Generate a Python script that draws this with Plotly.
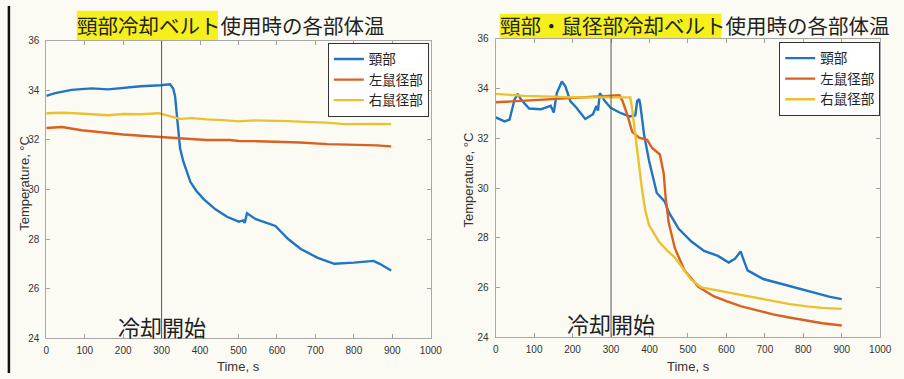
import plotly.graph_objects as go

W, H = 904, 379

SERIES_NAMES = ["頸部", "左鼠径部", "右鼠径部"]
X_TICKS = list(range(0, 1001, 100))
Y_TICKS = list(range(24, 37, 2))
COOLING_START = 300
COOLING_LABEL = "冷却開始"

TITLE_L_HL = "頸部冷却ベルト"
TITLE_L_REST = "使用時の各部体温"
TITLE_R_HL = "頸部・鼠径部冷却ベルト"
TITLE_R_REST = "使用時の各部体温"

# ---- Neck belt only (left panel) ----
a_neck_t = [0, 23, 66, 118, 161, 212, 246, 297, 322, 330, 335, 339, 343, 348, 356,
            362, 375, 390, 410, 440, 470, 501, 512, 516, 522, 545, 596, 629, 662,
            706, 749, 800, 851, 867, 897]
a_neck_v = [33.78, 33.89, 34.02, 34.08, 34.04, 34.12, 34.17, 34.21, 34.25, 34.08, 33.77,
            33.1, 32.44, 31.66, 31.15, 30.9, 30.3, 29.95, 29.6, 29.2, 28.9, 28.7, 28.75,
            28.65, 29.04, 28.8, 28.53, 28.0, 27.6, 27.24, 27.0, 27.05, 27.12, 27.0, 26.73]

a_left_t = [0, 41, 92, 130, 161, 200, 246, 289, 348, 380, 416, 476, 501, 550, 604, 660,
            731, 780, 816, 860, 897]
a_left_v = [32.48, 32.52, 32.39, 32.33, 32.26, 32.22, 32.17, 32.13, 32.06, 32.05, 32.0,
            32.0, 31.96, 31.95, 31.93, 31.9, 31.83, 31.82, 31.8, 31.78, 31.74]

a_right_t = [0, 40, 74, 120, 161, 200, 246, 292, 314, 348, 380, 416, 460, 501, 540, 578,
             630, 688, 730, 775, 820, 860, 897]
a_right_v = [33.08, 33.1, 33.08, 33.05, 33.0, 33.05, 33.04, 33.08, 32.99, 32.85, 32.88,
             32.83, 32.8, 32.75, 32.79, 32.78, 32.76, 32.72, 32.7, 32.64, 32.66, 32.65, 32.64]

# ---- Neck + groin belts (right panel) ----
b_neck_t = [0, 23, 36, 49, 57, 66, 87, 117, 143, 151, 159, 172, 181, 194, 210, 233, 253,
            262, 266, 271, 284, 299, 322, 348, 363, 368, 373, 376, 386, 399, 419, 440,
            450, 458, 476, 509, 542, 578, 606, 622, 637, 645, 655, 696, 730, 765, 800,
            834, 867, 900]
b_neck_v = [32.84, 32.68, 32.75, 33.56, 33.79, 33.56, 33.2, 33.17, 33.31, 33.04, 33.82,
            34.29, 34.1, 33.5, 33.23, 32.78, 32.97, 33.3, 33.12, 33.82, 33.5, 33.23, 33.04,
            32.88, 32.92, 33.5, 33.58, 33.36, 32.14, 31.09, 29.8, 29.45, 29.03, 28.83,
            28.36, 27.85, 27.47, 27.27, 27.0, 27.15, 27.45, 27.1, 26.69, 26.34, 26.2,
            26.03, 25.9, 25.76, 25.63, 25.53]

b_left_t = [0, 60, 117, 202, 287, 322, 330, 343, 355, 373, 394, 407, 427, 437, 442, 450,
            466, 491, 527, 568, 600, 637, 680, 721, 760, 808, 850, 900]
b_left_v = [33.45, 33.5, 33.53, 33.62, 33.69, 33.73, 33.5, 32.91, 32.26, 32.03, 31.94,
            31.61, 31.35, 30.58, 29.6, 28.6, 27.58, 26.69, 26.03, 25.64, 25.45, 25.25,
            25.08, 24.92, 24.8, 24.66, 24.56, 24.47]

b_right_t = [0, 74, 150, 202, 280, 330, 350, 355, 363, 373, 381, 389, 399, 424, 445, 466,
             490, 509, 535, 594, 640, 680, 720, 765, 810, 849, 900]
b_right_v = [33.79, 33.71, 33.68, 33.65, 33.65, 33.65, 33.65, 33.17, 32.14, 31.09, 29.9,
             29.1, 28.5, 27.86, 27.5, 27.2, 26.7, 26.3, 26.0, 25.83, 25.7, 25.57, 25.45,
             25.33, 25.24, 25.18, 25.14]

COLORS = ["#1f74c4", "#d8621f", "#e9c133"]
BG = "#fbfbf3"
HILITE = "#f5ef1c"
CJK = "Noto Sans CJK JP"
SANS = "Liberation Sans, Arial, sans-serif"
TITLE_SIZE = 20.5


def px_x(p):
    return p / W


def px_y(p):
    return 1 - p / H


fig = go.Figure()

panels = [
    ("x", "y", "legend", [(a_neck_t, a_neck_v), (a_left_t, a_left_v), (a_right_t, a_right_v)]),
    ("x2", "y2", "legend2", [(b_neck_t, b_neck_v), (b_left_t, b_left_v), (b_right_t, b_right_v)]),
]
for xa, ya, lg, series in panels:
    for name, color, (t, v) in zip(SERIES_NAMES, COLORS, series):
        fig.add_trace(go.Scatter(
            x=t, y=v, mode="lines", name=name, xaxis=xa, yaxis=ya, legend=lg,
            line=dict(color=color, width=2.4),
        ))

axis_common = dict(
    showgrid=False, zeroline=False, showline=True, linecolor="#a8a8a8", linewidth=1,
    mirror="ticks", ticks="inside", ticklen=4, tickcolor="#a0a0a0",
    tickfont=dict(family=SANS, size=10, color="#333"),
)
x_common = dict(range=[0, 1000], tickvals=X_TICKS, ticklabelstandoff=3, **axis_common)
y_common = dict(range=[24, 36], tickvals=Y_TICKS, ticklabelstandoff=4, **axis_common)

legend_common = dict(xanchor="right", yanchor="top", bgcolor="#ffffff", bordercolor="#333",
                     borderwidth=1, font=dict(family=CJK, size=13.5, color="#222"),
                     tracegroupgap=0)

fig.update_layout(
    width=W, height=H, autosize=False,
    margin=dict(l=0, r=0, t=0, b=0),
    paper_bgcolor=BG, plot_bgcolor=BG,
    showlegend=True,
    xaxis=dict(domain=[px_x(44), px_x(435)], anchor="y", **x_common),
    yaxis=dict(domain=[px_y(343), px_y(36)], anchor="x", **y_common),
    xaxis2=dict(domain=[px_x(501), px_x(892)], anchor="y2", **x_common),
    yaxis2=dict(domain=[px_y(342), px_y(34)], anchor="x2", **y_common),
    legend=dict(x=px_x(433), y=px_y(38), **legend_common),
    legend2=dict(x=px_x(892), y=px_y(37), **legend_common),
)

shapes = [
    # cooling-start markers
    dict(type="line", xref="x", yref="y", x0=COOLING_START, x1=COOLING_START, y0=24, y1=36,
         line=dict(color="#555", width=1)),
    dict(type="line", xref="x2", yref="y2", x0=COOLING_START, x1=COOLING_START, y0=24, y1=36,
         line=dict(color="#555", width=1)),
    # highlighted part of each title
    dict(type="rect", xref="paper", yref="paper", x0=px_x(75),
         x1=px_x(75 + len(TITLE_L_HL) * TITLE_SIZE),
         y0=px_y(35), y1=px_y(5), fillcolor=HILITE, line=dict(width=0), layer="below"),
    dict(type="rect", xref="paper", yref="paper", x0=px_x(505),
         x1=px_x(505 + len(TITLE_R_HL) * TITLE_SIZE),
         y0=px_y(33), y1=px_y(8), fillcolor=HILITE, line=dict(width=0), layer="below"),
    # page edge
    dict(type="line", xref="paper", yref="paper", x0=px_x(6), x1=px_x(6), y0=0, y1=1,
         line=dict(color="#111", width=2.5)),
]
fig.update_layout(shapes=shapes)

title_font = dict(family=CJK, size=TITLE_SIZE, color="#222")
annotations = [
    dict(text=TITLE_L_HL + TITLE_L_REST, xref="paper", yref="paper", x=px_x(73), y=px_y(20),
         xanchor="left", yanchor="middle", showarrow=False, font=title_font),
    dict(text=TITLE_R_HL + TITLE_R_REST, xref="paper", yref="paper", x=px_x(503), y=px_y(20),
         xanchor="left", yanchor="middle", showarrow=False, font=title_font),
]

label_font = dict(family=SANS, size=13, color="#333")
annotations += [
    dict(text="Temperature, °C", xref="paper", yref="paper", x=px_x(22), y=px_y(183),
         textangle=-90, showarrow=False, font=label_font, xanchor="center", yanchor="middle"),
    dict(text="Temperature, °C", xref="paper", yref="paper", x=px_x(473), y=px_y(180),
         textangle=-90, showarrow=False, font=label_font, xanchor="center", yanchor="middle"),
    dict(text="Time, s", xref="paper", yref="paper", x=px_x(239), y=px_y(362),
         showarrow=False, font=label_font, xanchor="center", yanchor="top"),
    dict(text="Time, s", xref="paper", yref="paper", x=px_x(697), y=px_y(362),
         showarrow=False, font=label_font, xanchor="center", yanchor="top"),
    dict(text=COOLING_LABEL, xref="x", yref="y", x=COOLING_START, y=24.5, showarrow=False,
         font=dict(family=CJK, size=22, color="#222"), xanchor="center", yanchor="middle"),
    dict(text=COOLING_LABEL, xref="x2", yref="y2", x=COOLING_START, y=24.58, showarrow=False,
         font=dict(family=CJK, size=22, color="#222"), xanchor="center", yanchor="middle"),
]
fig.update_layout(annotations=annotations)

fig.write_html("out.html")
